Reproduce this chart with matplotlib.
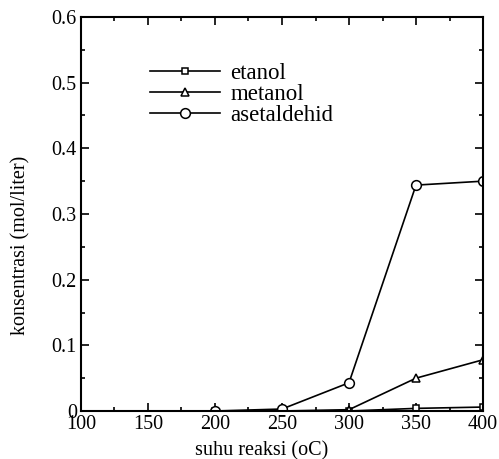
import numpy as np
import matplotlib.pyplot as plt

plt.rcParams['font.family'] = ['Liberation Serif', 'DejaVu Serif']

suhu = [200, 250, 300, 350, 400]
etanol = [0.0, 0.0, 0.0, 0.004, 0.006]
metanol = [0.0, 0.0, 0.002, 0.050, 0.078]
asetaldehid = [0.0, 0.003, 0.043, 0.344, 0.350]

fig = plt.figure(figsize=(4.99, 4.59), dpi=100)
ax = fig.add_axes([81/499, 48/459, 402/499, 394/459])

ax.plot(suhu, etanol, 'k-', marker='s', ms=5, mfc='white', mew=1.1, lw=1.2, label='etanol')
ax.plot(suhu, metanol, 'k-', marker='^', ms=6, mfc='white', mew=1.1, lw=1.2, label='metanol')
ax.plot(suhu, asetaldehid, 'k-', marker='o', ms=7, mfc='white', mew=1.1, lw=1.2, label='asetaldehid')

ax.set_xlim(100, 400)
ax.set_ylim(0, 0.6)
ax.set_xticks([100, 150, 200, 250, 300, 350, 400])
ax.set_xticks(np.arange(125, 400, 50), minor=True)
ax.set_yticks([0, 0.1, 0.2, 0.3, 0.4, 0.5, 0.6])
ax.set_yticklabels(['0', '0.1', '0.2', '0.3', '0.4', '0.5', '0.6'])
ax.set_yticks(np.arange(0.05, 0.6, 0.1), minor=True)
ax.tick_params(which='both', direction='in', top=True, right=True, labelsize=14.5, width=1.2)
ax.tick_params(which='major', length=6, pad=3)
ax.tick_params(which='minor', length=3)
for s in ax.spines.values():
    s.set_linewidth(1.5)

ax.set_xlabel('suhu reaksi (oC)', fontsize=14.5)
ax.set_ylabel('konsentrasi (mol/liter)', fontsize=14.5)
ax.xaxis.set_label_coords(0.45, -0.076)
ax.yaxis.set_label_coords(-0.125, 0.42)

ax.legend(loc='upper left', bbox_to_anchor=(0.172, 0.883), frameon=False, fontsize=16.5,
          handlelength=3.05, handletextpad=0.45, labelspacing=0.0,
          borderpad=0, borderaxespad=0)

fig.savefig('out.png', dpi=100)
